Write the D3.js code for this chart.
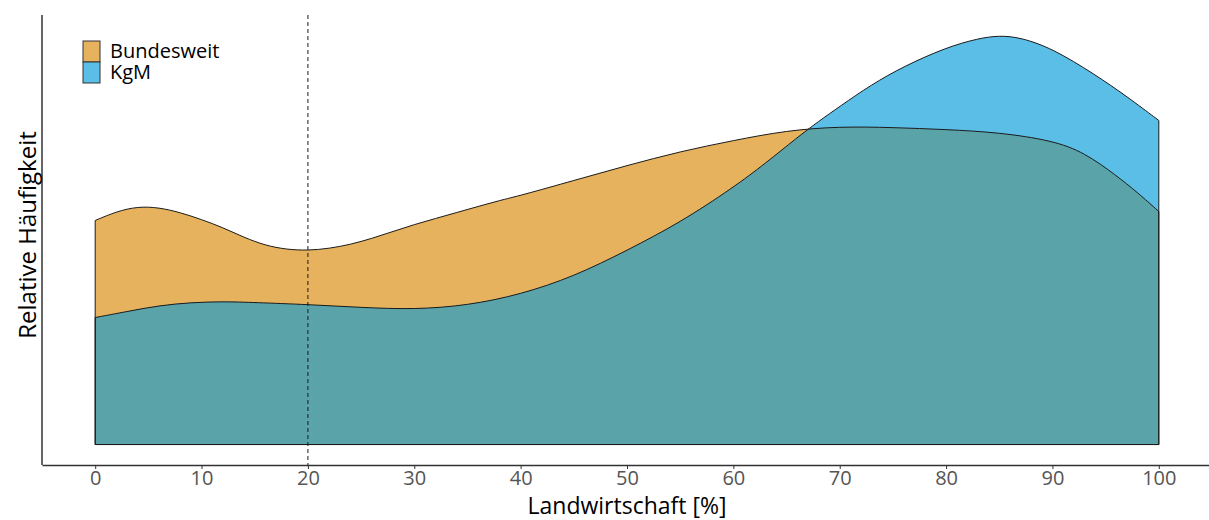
<!DOCTYPE html>
<html>
<head>
<meta charset="utf-8">
<script src="https://cdn.jsdelivr.net/npm/d3@7"></script>
<style>
  body { margin: 0; background: #fff; }
  text { font-family: "Open Sans", sans-serif; }
</style>
</head>
<body>
<script>
// density estimates (x in %, density x1000)
var bundesX = [0, 2, 4, 6, 8, 10, 12, 14, 16, 18, 20, 22, 24, 26, 28, 30, 32, 34, 36, 38, 40, 45, 50, 55, 60, 65, 70, 75, 80, 85, 90, 93, 96, 98, 100];
var bundesY = [11.2, 11.65, 11.9, 11.85, 11.6, 11.25, 10.85, 10.35, 9.95, 9.75, 9.7, 9.8, 10.0, 10.3, 10.65, 11.0, 11.3, 11.6, 11.9, 12.2, 12.45, 13.2, 13.95, 14.65, 15.2, 15.7, 15.9, 15.85, 15.75, 15.6, 15.2, 14.6, 13.45, 12.6, 11.65];

var kgmX = [0, 3, 6, 9, 12, 15, 20, 25, 30, 35, 40, 45, 50, 55, 60, 63, 66, 68, 70, 73, 76, 80, 83, 85, 87, 90, 94, 97, 100];
var kgmY = [6.35, 6.65, 6.95, 7.1, 7.15, 7.1, 7.0, 6.85, 6.75, 6.95, 7.5, 8.4, 9.7, 11.1, 12.85, 14.05, 15.35, 16.15, 16.9, 18.0, 18.9, 19.85, 20.3, 20.45, 20.35, 19.8, 18.5, 17.4, 16.2];

var xTicks = [0, 10, 20, 30, 40, 50, 60, 70, 80, 90, 100];
var seriesNames = ["Bundesweit", "KgM"];
var cutoff = 20;

var width = 1209, height = 520;
var panel = {left: 42, right: 1212, top: 15, bottom: 465};

var svg = d3.select("body").append("svg")
    .attr("width", width)
    .attr("height", height);

var bundes = bundesX.map(function(d, i){ return {x: d, y: bundesY[i]}; });
var kgm = kgmX.map(function(d, i){ return {x: d, y: kgmY[i]}; });

var ymax = d3.max(bundesY.concat(kgmY));

var xScale = d3.scaleLinear()
    .domain([-5, 105])
    .range([panel.left, panel.right]);

var yScale = d3.scaleLinear()
    .domain([-0.05 * ymax, 1.05 * ymax])
    .range([panel.bottom, panel.top]);

var area = d3.area()
    .x(function(d){ return xScale(d.x); })
    .y0(yScale(0))
    .y1(function(d){ return yScale(d.y); })
    .curve(d3.curveBasis);

svg.append("defs").append("clipPath")
    .attr("id", "clipBundes")
  .append("path")
    .attr("d", area(bundes));

// fills: orange only, blue only, overlap
svg.append("path").attr("d", area(bundes)).attr("fill", "#E7B25E");
svg.append("path").attr("d", area(kgm)).attr("fill", "#5BBEE6");
svg.append("path").attr("d", area(kgm)).attr("fill", "#5AA4A9")
    .attr("clip-path", "url(#clipBundes)");

// outlines (closed polygons incl. sides and bottom)
svg.append("path").attr("d", area(bundes))
    .attr("fill", "none").attr("stroke", "#1a1a1a").attr("stroke-width", 1);
svg.append("path").attr("d", area(kgm))
    .attr("fill", "none").attr("stroke", "#1a1a1a").attr("stroke-width", 1);

// dashed reference line
svg.append("line")
    .attr("x1", xScale(cutoff)).attr("x2", xScale(cutoff))
    .attr("y1", panel.top).attr("y2", panel.bottom)
    .attr("stroke", "#1a1a1a")
    .attr("stroke-width", 1)
    .attr("stroke-dasharray", "4,3");

// X axis
var xAxis = d3.axisBottom(xScale)
    .tickValues(xTicks)
    .tickSize(4)
    .tickSizeOuter(0)
    .tickPadding(2);

var gx = svg.append("g")
    .attr("transform", "translate(0," + panel.bottom + ")")
    .call(xAxis);
gx.select(".domain").attr("stroke", "#333").attr("stroke-width", 1.5);
gx.selectAll(".tick line").attr("stroke", "#333");
gx.selectAll(".tick text")
    .attr("fill", "#555")
    .style("font-size", "20px")
    .style("font-family", "'Open Sans', sans-serif");

// Y axis line only
svg.append("line")
    .attr("x1", panel.left).attr("x2", panel.left)
    .attr("y1", panel.top).attr("y2", panel.bottom)
    .attr("stroke", "#333").attr("stroke-width", 1.5);

// axis titles
svg.append("text")
    .text("Landwirtschaft [%]")
    .attr("x", xScale(50))
    .attr("y", 514)
    .attr("text-anchor", "middle")
    .style("font-size", "23px")
    .attr("fill", "#000");

svg.append("text")
    .text("Relative Häufigkeit")
    .attr("transform", "translate(36," + 235 + ") rotate(270)")
    .attr("text-anchor", "middle")
    .style("font-size", "24px")
    .attr("fill", "#000");

// legend
var legendColors = ["#E7B25E", "#5BBEE6"];
var legend = svg.append("g").attr("transform", "translate(83,41)");
seriesNames.forEach(function(name, i){
  legend.append("rect")
      .attr("x", 0).attr("y", i * 21)
      .attr("width", 17).attr("height", 21)
      .attr("fill", legendColors[i])
      .attr("stroke", "#333").attr("stroke-width", 1);
  legend.append("text")
      .text(name)
      .attr("x", 27).attr("y", i * 21 + 17)
      .style("font-size", "20px")
      .attr("fill", "#000");
});
</script>
</body>
</html>
